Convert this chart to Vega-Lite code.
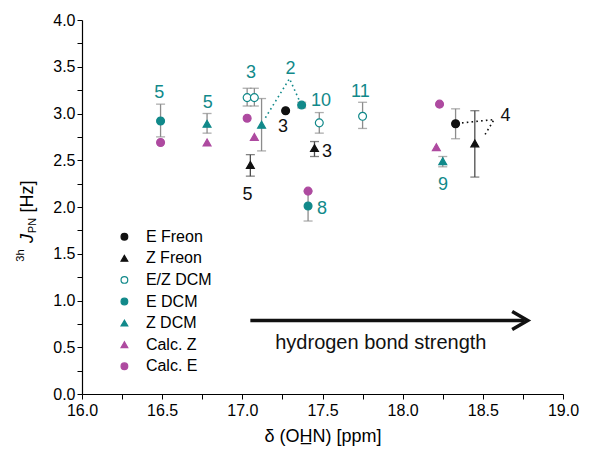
{
  "$schema": "https://vega.github.io/schema/vega-lite/v6.json",
  "width": 481,
  "height": 374,
  "autosize": "none",
  "padding": {"left": 82, "top": 20, "right": 40, "bottom": 61},
  "background": "white",
  "config": {
    "view": {"stroke": null},
    "font": "Liberation Sans",
    "axis": {
      "domainColor": "black", "tickColor": "black", "labelColor": "black", "titleColor": "black",
      "labelFontSize": 16, "titleFontSize": 18, "titleFontWeight": "normal", "grid": false,
      "tickSize": 5, "labelFont": "Liberation Sans", "titleFont": "Liberation Sans",
      "domainWidth": 1.2, "tickWidth": 1, "labelFlush": false, "labelOverlap": false
    },
    "text": {"font": "Liberation Sans"}
  },
  "datasets": {
    "pts": [
      {"s": "E DCM", "x": 16.49, "y": 2.92, "lo": 2.75, "hi": 3.10},
      {"s": "Calc. E", "x": 16.49, "y": 2.69},
      {"s": "Z DCM", "x": 16.78, "y": 2.89, "lo": 2.79, "hi": 3.00},
      {"s": "Calc. Z", "x": 16.78, "y": 2.69},
      {"s": "E/Z DCM", "x": 17.03, "y": 3.17, "lo": 3.08, "hi": 3.27},
      {"s": "E/Z DCM", "x": 17.075, "y": 3.17, "lo": 3.08, "hi": 3.27},
      {"s": "Calc. E", "x": 17.03, "y": 2.95},
      {"s": "Z DCM", "x": 17.12, "y": 2.88, "lo": 2.60, "hi": 3.16},
      {"s": "Calc. Z", "x": 17.075, "y": 2.75},
      {"s": "Z Freon", "x": 17.05, "y": 2.45, "lo": 2.33, "hi": 2.56},
      {"s": "E Freon", "x": 17.27, "y": 3.03},
      {"s": "E DCM", "x": 17.37, "y": 3.09, "lo": 3.06, "hi": 3.12},
      {"s": "E/Z DCM", "x": 17.48, "y": 2.90, "lo": 2.79, "hi": 3.01},
      {"s": "Z Freon", "x": 17.45, "y": 2.63, "lo": 2.54, "hi": 2.70},
      {"s": "Calc. E", "x": 17.41, "y": 2.17},
      {"s": "E DCM", "x": 17.41, "y": 2.01, "lo": 1.85, "hi": 2.17},
      {"s": "E/Z DCM", "x": 17.75, "y": 2.97, "lo": 2.84, "hi": 3.12},
      {"s": "Calc. E", "x": 18.23, "y": 3.10},
      {"s": "E Freon", "x": 18.33, "y": 2.89, "lo": 2.73, "hi": 3.05},
      {"s": "Z Freon", "x": 18.45, "y": 2.68, "lo": 2.32, "hi": 3.03},
      {"s": "Calc. Z", "x": 18.21, "y": 2.64},
      {"s": "Z DCM", "x": 18.25, "y": 2.49, "lo": 2.43, "hi": 2.54}
    ],
    "labs": [
      {"t": "5", "solvent": "DCM", "x": 16.482, "y": 3.223},
      {"t": "5", "solvent": "DCM", "x": 16.784, "y": 3.116},
      {"t": "3", "solvent": "DCM", "x": 17.054, "y": 3.43},
      {"t": "2", "solvent": "DCM", "x": 17.30, "y": 3.473},
      {"t": "10", "solvent": "DCM", "x": 17.49, "y": 3.133},
      {"t": "11", "solvent": "DCM", "x": 17.736, "y": 3.229},
      {"t": "8", "solvent": "DCM", "x": 17.497, "y": 1.98},
      {"t": "9", "solvent": "DCM", "x": 18.252, "y": 2.24},
      {"t": "3", "solvent": "Freon", "x": 17.254, "y": 2.859},
      {"t": "5", "solvent": "Freon", "x": 17.033, "y": 2.133},
      {"t": "3", "solvent": "Freon", "x": 17.528, "y": 2.586},
      {"t": "4", "solvent": "Freon", "x": 18.641, "y": 2.972}
    ],
    "dots": [
      {"g": "2", "solvent": "DCM", "o": 0, "x": 17.144, "y": 2.955},
      {"g": "2", "solvent": "DCM", "o": 1, "x": 17.294, "y": 3.373},
      {"g": "2", "solvent": "DCM", "o": 2, "x": 17.357, "y": 3.133},
      {"g": "4", "solvent": "Freon", "o": 0, "x": 18.37, "y": 2.90},
      {"g": "4", "solvent": "Freon", "o": 1, "x": 18.57, "y": 2.935},
      {"g": "4", "solvent": "Freon", "o": 2, "x": 18.505, "y": 2.75}
    ],
    "arrow": [
      {"part": "shaft", "o": 0, "x": 17.05, "y": 0.786},
      {"part": "shaft", "o": 1, "x": 18.76, "y": 0.786},
      {"part": "head", "o": 0, "x": 18.683, "y": 0.882},
      {"part": "head", "o": 1, "x": 18.78, "y": 0.786},
      {"part": "head", "o": 2, "x": 18.683, "y": 0.69}
    ],
    "note": [
      {"t": "hydrogen bond strength", "x": 17.864, "y": 0.55}
    ]
  },
  "resolve": {"axis": {"y": "independent", "x": "independent"}},
  "layer": [
    {
      "data": {"name": "dots"},
      "mark": {"type": "line", "strokeWidth": 1.6, "strokeDash": [1.6, 3.2]},
      "encoding": {
        "x": {"field": "x", "type": "quantitative", "axis": null},
        "y": {"field": "y", "type": "quantitative", "axis": null},
        "detail": {"field": "g", "type": "nominal"},
        "order": {"field": "o", "type": "quantitative"},
        "color": {"field": "solvent", "type": "nominal", "scale": {"domain": ["DCM", "Freon"], "range": ["#11898a", "#111111"]}, "legend": null}
      }
    },
    {
      "data": {"name": "pts"},
      "transform": [{"filter": "isValid(datum.lo)"}],
      "mark": {"type": "rule", "strokeWidth": 1.3},
      "encoding": {
        "x": {"field": "x", "type": "quantitative", "axis": null},
        "y": {"field": "lo", "type": "quantitative", "axis": {"orient": "left", "labels": false, "ticks": false, "domain": false, "title": "3h", "titleFontSize": 11, "titleX": -59, "titleY": 235, "titleAngle": -90, "titleAlign": "center", "titleBaseline": "alphabetic"}},
        "y2": {"field": "hi"},
        "color": {"condition": {"test": "datum.s === 'Z Freon'", "value": "#4d4d4d"}, "value": "#8c8c8c"}
      }
    },
    {
      "data": {"name": "pts"},
      "transform": [{"filter": "isValid(datum.lo)"}],
      "mark": {"type": "tick", "orient": "horizontal", "size": 9, "thickness": 1.3},
      "encoding": {
        "x": {"field": "x", "type": "quantitative", "axis": null},
        "y": {"field": "lo", "type": "quantitative", "axis": {"orient": "left", "labels": false, "ticks": false, "domain": false, "title": "PN", "titleFontSize": 11, "titleX": -47, "titleY": 205, "titleAngle": -90, "titleAlign": "center", "titleBaseline": "alphabetic"}},
        "color": {"condition": {"test": "datum.s === 'Z Freon'", "value": "#4d4d4d"}, "value": "#8c8c8c"}
      }
    },
    {
      "data": {"name": "pts"},
      "transform": [{"filter": "isValid(datum.lo)"}],
      "mark": {"type": "tick", "orient": "horizontal", "size": 9, "thickness": 1.3},
      "encoding": {
        "x": {"field": "x", "type": "quantitative", "axis": null},
        "y": {"field": "hi", "type": "quantitative", "axis": {"orient": "left", "labels": false, "ticks": false, "domain": false, "title": "[Hz]", "titleFontSize": 18, "titleX": -50, "titleY": 176, "titleAngle": -90, "titleAlign": "center", "titleBaseline": "alphabetic"}},
        "color": {"condition": {"test": "datum.s === 'Z Freon'", "value": "#4d4d4d"}, "value": "#8c8c8c"}
      }
    },
    {
      "data": {"name": "pts"},
      "mark": {"type": "point", "filled": true, "size": 62, "strokeWidth": 1.2, "opacity": 1},
      "encoding": {
        "x": {"field": "x", "type": "quantitative", "scale": {"domain": [16, 19], "nice": false, "zero": false},
          "axis": {"values": [16, 16.25, 16.5, 16.75, 17, 17.25, 17.5, 17.75, 18, 18.25, 18.5, 18.75, 19],
            "labelExpr": "(datum.value * 2) % 1 === 0 ? format(datum.value, '.1f') : ''",
            "domain": true, "ticks": true, "labels": true,
            "labelPadding": 3, "title": "δ (OH̲N) [ppm]", "titlePadding": 9}},
        "y": {"field": "y", "type": "quantitative", "scale": {"domain": [0, 4], "nice": false, "zero": true},
          "axis": {"orient": "left", "values": [0, 0.25, 0.5, 0.75, 1, 1.25, 1.5, 1.75, 2, 2.25, 2.5, 2.75, 3, 3.25, 3.5, 3.75, 4],
            "labelExpr": "(datum.value * 2) % 1 === 0 ? format(datum.value, '.1f') : ''",
            "domain": true, "domainColor": "black",
            "labelPadding": 2, "title": "J", "titleFontStyle": "italic", "titleFontSize": 18,
            "titleX": -50, "titleY": 218, "titleAngle": -90, "titleAlign": "center", "titleBaseline": "alphabetic"}},
        "shape": {"field": "s", "type": "nominal",
          "scale": {"domain": ["E Freon", "Z Freon", "E/Z DCM", "E DCM", "Z DCM", "Calc. Z", "Calc. E"],
            "range": ["circle", "triangle-up", "circle", "circle", "triangle-up", "triangle-up", "circle"]},
          "legend": {"title": null, "orient": "none", "legendX": 34.4, "legendY": 208.7, "labelFontSize": 16,
            "labelFont": "Liberation Sans", "labelColor": "black", "symbolSize": 45, "rowPadding": 5.6,
            "labelOffset": 13.5, "padding": 0, "symbolStrokeWidth": 1.2}},
        "fill": {"field": "s", "type": "nominal",
          "scale": {"domain": ["E Freon", "Z Freon", "E/Z DCM", "E DCM", "Z DCM", "Calc. Z", "Calc. E"],
            "range": ["#111111", "#111111", "#ffffff", "#11898a", "#11898a", "#ae4aa0", "#ae4aa0"]},
          "legend": {"title": null, "orient": "none", "legendX": 34.4, "legendY": 208.7, "labelFontSize": 16,
            "labelFont": "Liberation Sans", "labelColor": "black", "symbolSize": 45, "rowPadding": 5.6,
            "labelOffset": 13.5, "padding": 0, "symbolStrokeWidth": 1.2}},
        "stroke": {"field": "s", "type": "nominal",
          "scale": {"domain": ["E Freon", "Z Freon", "E/Z DCM", "E DCM", "Z DCM", "Calc. Z", "Calc. E"],
            "range": ["#111111", "#111111", "#11898a", "#11898a", "#11898a", "#ae4aa0", "#ae4aa0"]},
          "legend": {"title": null, "orient": "none", "legendX": 34.4, "legendY": 208.7, "labelFontSize": 16,
            "labelFont": "Liberation Sans", "labelColor": "black", "symbolSize": 45, "rowPadding": 5.6,
            "labelOffset": 13.5, "padding": 0, "symbolStrokeWidth": 1.2}}
      }
    },
    {
      "data": {"name": "labs"},
      "mark": {"type": "text", "fontSize": 18, "align": "center", "baseline": "middle"},
      "encoding": {
        "x": {"field": "x", "type": "quantitative", "axis": null},
        "y": {"field": "y", "type": "quantitative", "axis": null},
        "text": {"field": "t"},
        "color": {"field": "solvent", "type": "nominal", "legend": null}
      }
    },
    {
      "data": {"name": "arrow"},
      "mark": {"type": "line", "strokeWidth": 3.5, "color": "#111111", "strokeCap": "butt", "strokeJoin": "miter"},
      "encoding": {
        "x": {"field": "x", "type": "quantitative", "axis": null},
        "y": {"field": "y", "type": "quantitative", "axis": null},
        "detail": {"field": "part", "type": "nominal"},
        "order": {"field": "o", "type": "quantitative"}
      }
    },
    {
      "data": {"name": "note"},
      "mark": {"type": "text", "fontSize": 20, "align": "center", "baseline": "middle", "color": "#111111"},
      "encoding": {
        "x": {"field": "x", "type": "quantitative", "axis": null},
        "y": {"field": "y", "type": "quantitative", "axis": null},
        "text": {"field": "t"}
      }
    }
  ]
}
